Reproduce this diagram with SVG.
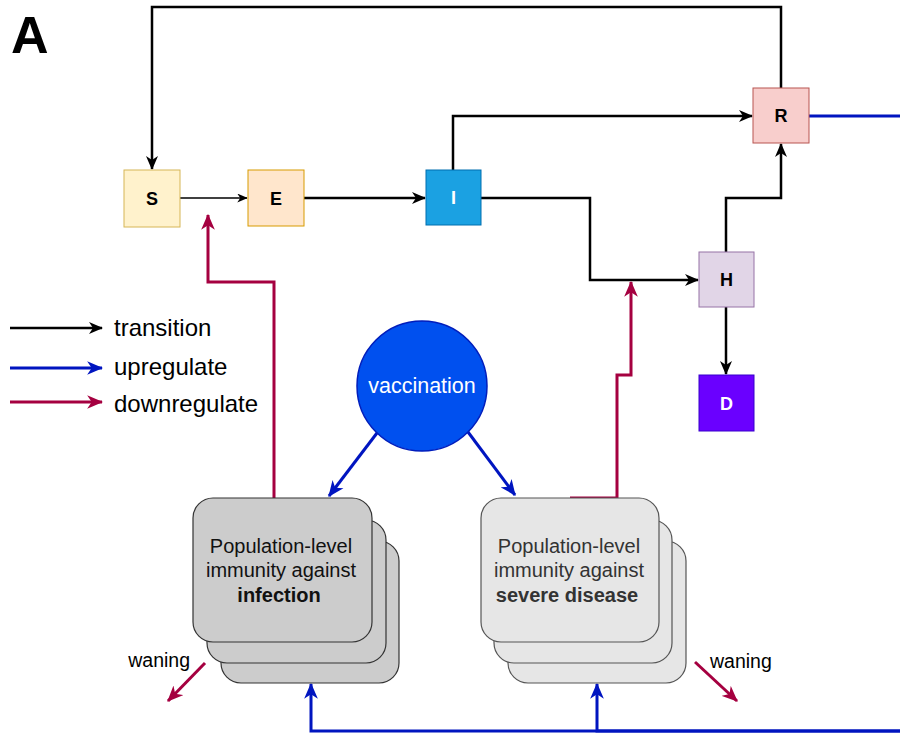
<svg xmlns="http://www.w3.org/2000/svg" width="900" height="734" viewBox="0 0 900 734">
<style>
text{font-family:"Liberation Sans",Arial,Helvetica,sans-serif}
.lbl{font-size:18px;font-weight:bold;text-anchor:middle}
.k{fill:none;stroke:#000;stroke-width:2.5}
.b{fill:none;stroke:#0015C0;stroke-width:3}
.r{fill:none;stroke:#A50040;stroke-width:3}
.leg{font-size:24px;fill:#000}
.imm{font-size:20px;text-anchor:middle}
</style>
<defs>
<marker id="ak" viewBox="0 0 14 12" refX="13" refY="6" markerWidth="14" markerHeight="12" markerUnits="userSpaceOnUse" orient="auto"><path d="M0,0 L14,6 L0,12 L4,6 Z" fill="#000"/></marker>
<marker id="aks" viewBox="0 0 14 12" refX="13" refY="6" markerWidth="11" markerHeight="9" markerUnits="userSpaceOnUse" orient="auto"><path d="M0,0 L14,6 L0,12 L4,6 Z" fill="#000"/></marker>
<marker id="ab" viewBox="0 0 14 12" refX="13" refY="6" markerWidth="16" markerHeight="14" markerUnits="userSpaceOnUse" orient="auto"><path d="M0,0 L14,6 L0,12 L4,6 Z" fill="#0015C0"/></marker>
<marker id="ar" viewBox="0 0 14 12" refX="13" refY="6" markerWidth="16" markerHeight="14" markerUnits="userSpaceOnUse" orient="auto"><path d="M0,0 L14,6 L0,12 L4,6 Z" fill="#A50040"/></marker>
</defs>
<rect width="900" height="734" fill="#fff"/>
<text x="11" y="53" font-size="52" font-weight="bold">A</text>
<g id="connectors">
<path class="k" d="M781,88 V7 H152 V169" marker-end="url(#ak)"/>
<path fill="none" stroke="#000" stroke-width="1.3" d="M180,198 H247" marker-end="url(#aks)"/>
<path class="k" d="M304,198 H425" marker-end="url(#ak)"/>
<path class="k" d="M453,170 V116 H752" marker-end="url(#ak)"/>
<path class="k" d="M481,198 H590 V280 H698" marker-end="url(#ak)"/>
<path class="k" d="M726,252 V198 H781 V144" marker-end="url(#ak)"/>
<path class="k" d="M726,307 V374" marker-end="url(#ak)"/>
<path class="b" d="M809,116 H906 V731 H311 V684" marker-end="url(#ab)"/>
<path class="b" d="M906,731 H597 V684" marker-end="url(#ab)"/>
<path class="b" d="M377,433 L329,496" marker-end="url(#ab)"/>
<path class="b" d="M468,432 L515,495" marker-end="url(#ab)"/>
<path class="r" d="M274,498 V282 H208 V215" marker-end="url(#ar)"/>
<path class="r" d="M570,498 H617 V375 H631 V282" marker-end="url(#ar)"/>
<path class="r" d="M205,663 L168,701" marker-end="url(#ar)"/>
<path class="r" d="M695,662 L737,701" marker-end="url(#ar)"/>
</g>
<g id="legend">
<path class="k" d="M10,328 H102" stroke-width="2" marker-end="url(#ak)"/>
<path class="b" d="M10,368 H102" stroke-width="2" marker-end="url(#ab)"/>
<path class="r" d="M10,402 H102" stroke-width="2" marker-end="url(#ar)"/>
<text class="leg" x="114" y="336">transition</text>
<text class="leg" x="114" y="375">upregulate</text>
<text class="leg" x="114" y="412">downregulate</text>
</g>
<g id="S"><rect x="124" y="170" width="56" height="57" fill="#FFF2CC" stroke="#D6B656"/><text class="lbl" x="152" y="205">S</text></g>
<g id="E"><rect x="248" y="170" width="56" height="56" fill="#FFE6CC" stroke="#D79B00"/><text class="lbl" x="276" y="205">E</text></g>
<g id="I"><rect x="426" y="170" width="55" height="55" fill="#1BA1E2" stroke="#006EAF"/><text class="lbl" x="453.5" y="204" fill="#fff">I</text></g>
<g id="R"><rect x="753" y="88" width="56" height="55" fill="#F8CECC" stroke="#B85450"/><text class="lbl" x="781" y="122">R</text></g>
<g id="H"><rect x="699" y="252" width="55" height="55" fill="#E1D5E7" stroke="#9673A6"/><text class="lbl" x="726.5" y="286">H</text></g>
<g id="D"><rect x="699" y="375" width="55" height="56" fill="#6A00FF" stroke="#3700CC"/><text class="lbl" x="726.5" y="410" fill="#fff">D</text></g>
<g id="vaccination"><circle cx="422" cy="386" r="65" fill="#0050EF" stroke="#001DBC" stroke-width="1.5"/><text x="422" y="393" font-size="21.5" fill="#fff" text-anchor="middle">vaccination</text></g>
<g id="immunity-infection">
<rect x="221" y="541" width="178" height="142" rx="20" fill="#CCCCCC" stroke="#333" stroke-width="1.2"/>
<rect x="207" y="520" width="179" height="143" rx="20" fill="#CCCCCC" stroke="#333" stroke-width="1.2"/>
<rect x="193" y="498" width="179" height="144" rx="20" fill="#CCCCCC" stroke="#333" stroke-width="1.2"/>
<text class="imm" x="281" y="553" fill="#111">Population-level</text>
<text class="imm" x="281" y="577" fill="#111">immunity against</text>
<text class="imm" x="279" y="602" fill="#111" font-weight="bold">infection</text>
<text x="190" y="667" font-size="19.5" text-anchor="end">waning</text>
</g>
<g id="immunity-severe">
<rect x="508" y="541" width="178" height="142" rx="20" fill="#E6E6E6" stroke="#555" stroke-width="1.2"/>
<rect x="494" y="520" width="178" height="143" rx="20" fill="#E6E6E6" stroke="#555" stroke-width="1.2"/>
<rect x="481" y="498" width="178" height="144" rx="20" fill="#E6E6E6" stroke="#555" stroke-width="1.2"/>
<text class="imm" x="569" y="553" fill="#333">Population-level</text>
<text class="imm" x="569" y="577" fill="#333">immunity against</text>
<text class="imm" x="567" y="602" fill="#333" font-weight="bold">severe disease</text>
<text x="710" y="668" font-size="19.5">waning</text>
</g>
</svg>
